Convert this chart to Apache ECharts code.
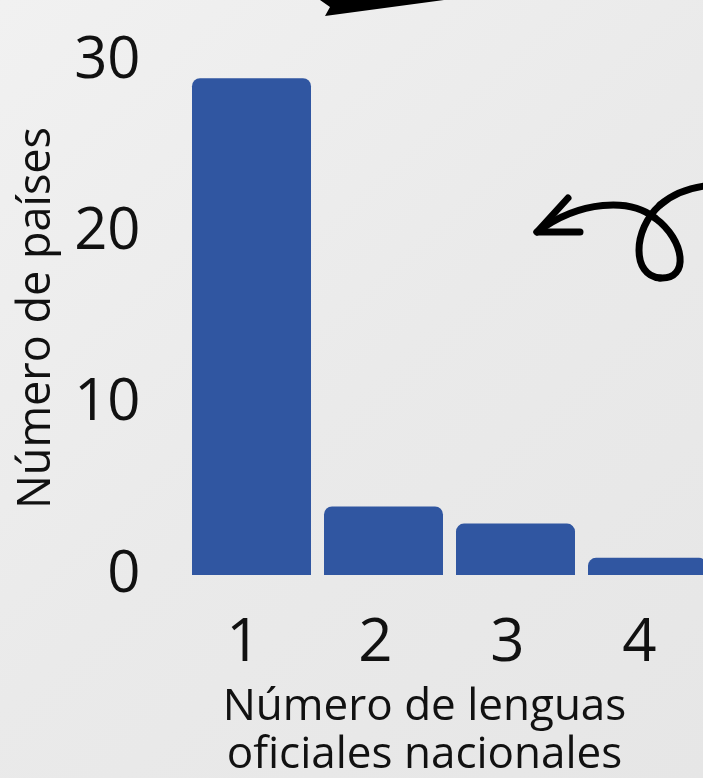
<!DOCTYPE html>
<html>
<head>
<meta charset="utf-8">
<script src="https://cdn.jsdelivr.net/npm/echarts@6/dist/echarts.min.js"></script>
<style>
html,body{margin:0;padding:0;background:#ececec;}
#chart{width:703px;height:778px;}
</style>
</head>
<body>
<div id="chart"></div>
<script>
const categories = ['1', '2', '3', '4'];
const paises = [29, 4, 3, 1];
const yTicks = [0, 10, 20, 30];

const chart = echarts.init(document.getElementById('chart'));
const font = 'Open Sans';
const strokeStyle = {fill: 'none', stroke: '#000', lineWidth: 7, lineCap: 'round', lineJoin: 'round'};
function curve(x1, y1, c1x, c1y, c2x, c2y, x2, y2) {
  return {type: 'bezierCurve', shape: {x1: x1, y1: y1, cpx1: c1x, cpy1: c1y, cpx2: c2x, cpy2: c2y, x2: x2, y2: y2}, style: strokeStyle};
}
chart.setOption({
  backgroundColor: {
    type: 'linear', x: 0, y: 0, x2: 1, y2: 1,
    colorStops: [
      {offset: 0, color: '#f1f1f1'},
      {offset: 0.5, color: '#eaeaea'},
      {offset: 1, color: '#e6e6e6'}
    ]
  },
  animation: false,
  grid: {left: 185.5, width: 528, top: 61, height: 514, containLabel: false, outerBoundsMode: 'none'},
  xAxis: {
    type: 'category',
    data: categories,
    axisLine: {show: false},
    axisTick: {show: false},
    axisLabel: {
      fontFamily: font, fontSize: 60, color: '#111', margin: 39,
      padding: [0, 16, 0, 0]
    },
    name: 'Número de lenguas\noficiales nacionales',
    nameLocation: 'middle',
    nameGap: 108,
    nameTextStyle: {
      fontFamily: font, fontSize: 44, color: '#111', lineHeight: 48,
      padding: [0, 50, 0, 0]
    }
  },
  yAxis: {
    type: 'value',
    min: yTicks[0],
    max: yTicks[yTicks.length - 1],
    interval: 10,
    splitLine: {show: false},
    axisLine: {show: false},
    axisTick: {show: false},
    axisLabel: {fontFamily: font, fontSize: 58, color: '#111', margin: 45},
    name: 'Número de países',
    nameLocation: 'middle',
    nameGap: 126,
    nameTextStyle: {fontFamily: font, fontSize: 45, color: '#111'}
  },
  series: [{
    type: 'bar',
    data: paises,
    barWidth: 119,
    itemStyle: {color: '#3056a1', borderRadius: [8, 8, 0, 0]}
  }],
  graphic: [
    {
      type: 'polygon',
      shape: {points: [[320, 0], [330, 7], [325, 16], [444, 0]]},
      style: {fill: '#000'}
    },
    curve(537, 232, 580, 200, 630, 198, 655, 218),
    curve(655, 218, 685, 240, 690, 280, 660, 278),
    curve(660, 278, 632, 276, 632, 230, 660, 205),
    curve(660, 205, 675, 192, 690, 188, 705, 186),
    {
      type: 'polyline',
      shape: {points: [[568, 198], [537, 232], [580, 232]]},
      style: strokeStyle
    }
  ]
});
</script>
</body>
</html>
